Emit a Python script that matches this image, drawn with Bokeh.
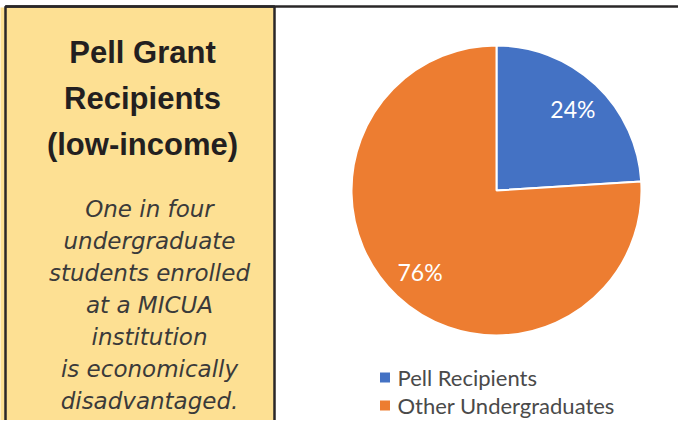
import math
from bokeh.plotting import figure
from bokeh.models import Range1d, ColumnDataSource
from bokeh.core.properties import value
from bokeh.embed import file_html
from bokeh.resources import INLINE

# ---- data ----
categories = ["Pell Recipients", "Other Undergraduates"]
shares = [24, 76]
colors = ["#4472C4", "#ED7D31"]
title_lines = ["Pell Grant", "Recipients", "(low-income)"]
body_lines = ["One in four", "undergraduate", "students enrolled", "at a MICUA",
              "institution", "is economically", "disadvantaged."]

# ---- layout helpers (reference pixel coords -> data coords) ----
W, H = 678, 420
def Y(ref_y):
    return 436 - ref_y

p = figure(width=W, height=H, x_range=Range1d(0, W), y_range=Range1d(436 - H, 436),
           output_backend="svg", toolbar_location=None, min_border=0)
p.axis.visible = False
p.grid.visible = False
p.outline_line_color = None
p.background_fill_color = "white"
p.border_fill_color = "white"

# left panel
YELLOW = "#FDE093"
DARK = "#2a2728"
p.quad(left=-2, right=5, bottom=Y(450), top=Y(7), fill_color=YELLOW, line_color=None)
p.quad(left=5, right=274, bottom=Y(450), top=Y(6), fill_color=YELLOW,
       line_color=DARK, line_width=2.5)
p.segment(x0=5, x1=700, y0=Y(6), y1=Y(6), line_color=DARK, line_width=2.5)

# title
title_mid = [52, 98, 144]
p.text(x=[142] * len(title_lines), y=[Y(b) for b in title_mid], text=title_lines,
       text_align="center", text_baseline="middle",
       text_font=value("Liberation Sans"), text_font_style="bold",
       text_font_size="31px", text_color="#231f20")

# body text
body_mid = [208 + 32.1 * i for i in range(len(body_lines))]
p.text(x=[149] * len(body_lines), y=[Y(b) for b in body_mid], text=body_lines,
       text_align="center", text_baseline="middle",
       text_font=value("DejaVu Sans"), text_font_style="italic",
       text_font_size="23px", text_color="#3a3a3a")

# pie
cx, cy, R = 496, Y(190), 145
total = sum(shares)
starts, ends, mids = [], [], []
a = math.pi / 2
for s in shares:
    ang = s / total * 2 * math.pi
    starts.append(a)
    ends.append(a - ang)
    mids.append(a - ang / 2)
    a -= ang
src = ColumnDataSource(dict(start=starts, end=ends, color=colors, cat=categories))
p.wedge(x=cx, y=cy, radius=R, start_angle="start", end_angle="end", direction="clock",
        fill_color="color", line_color="white", line_width=2, source=src)

lr = 0.77 * R
lx = [cx + lr * math.cos(m) for m in mids]
ly = [cy + lr * math.sin(m) for m in mids]
p.text(x=lx, y=ly, text=[f"{s}%" for s in shares], text_align="center",
       text_baseline="middle", text_font=value("Lato"), text_font_size="23px",
       text_color="white")

# legend (manual)
leg_y = [Y(377 + 28 * i) for i in range(len(categories))]
p.scatter(x=[384.5] * len(categories), y=leg_y, marker="square", size=10,
          fill_color=colors, line_color=None)
p.text(x=[397] * len(categories), y=leg_y, text=categories, text_align="left",
       text_baseline="middle", text_font=value("Lato"), text_font_size="22px",
       text_color="#4a4a4a")

open("out.html", "w").write(file_html(p, INLINE))
